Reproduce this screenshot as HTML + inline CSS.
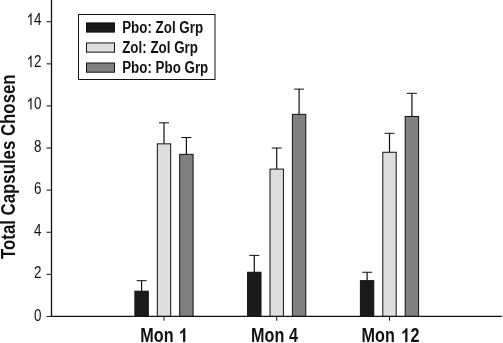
<!DOCTYPE html>
<html><head><meta charset="utf-8"><style>
html,body{margin:0;padding:0;background:#fff;overflow:hidden;}
svg{display:block;will-change:transform;}
text{font-family:"Liberation Sans",sans-serif;fill:#111;}
.b{font-weight:bold;}
</style></head><body>
<svg width="503" height="343" viewBox="0 0 503 343">
<line x1="141.60" y1="280.66" x2="141.60" y2="291.19" stroke="#111" stroke-width="1.2"/>
<line x1="136.60" y1="280.66" x2="146.60" y2="280.66" stroke="#111" stroke-width="1"/>
<rect x="134.90" y="291.19" width="13.4" height="25.26" fill="#1a1a1a" stroke="#111" stroke-width="1"/>
<line x1="164.00" y1="122.79" x2="164.00" y2="143.84" stroke="#111" stroke-width="1.2"/>
<line x1="159.00" y1="122.79" x2="169.00" y2="122.79" stroke="#111" stroke-width="1"/>
<rect x="157.30" y="143.84" width="13.4" height="172.61" fill="#dedede" stroke="#111" stroke-width="1"/>
<line x1="186.40" y1="137.52" x2="186.40" y2="154.36" stroke="#111" stroke-width="1.2"/>
<line x1="181.40" y1="137.52" x2="191.40" y2="137.52" stroke="#111" stroke-width="1"/>
<rect x="179.70" y="154.36" width="13.4" height="162.09" fill="#808080" stroke="#111" stroke-width="1"/>
<line x1="254.30" y1="255.40" x2="254.30" y2="272.25" stroke="#111" stroke-width="1.2"/>
<line x1="249.30" y1="255.40" x2="259.30" y2="255.40" stroke="#111" stroke-width="1"/>
<rect x="247.60" y="272.25" width="13.4" height="44.20" fill="#1a1a1a" stroke="#111" stroke-width="1"/>
<line x1="276.70" y1="148.05" x2="276.70" y2="169.10" stroke="#111" stroke-width="1.2"/>
<line x1="271.70" y1="148.05" x2="281.70" y2="148.05" stroke="#111" stroke-width="1"/>
<rect x="270.00" y="169.10" width="13.4" height="147.35" fill="#dedede" stroke="#111" stroke-width="1"/>
<line x1="299.10" y1="89.11" x2="299.10" y2="114.37" stroke="#111" stroke-width="1.2"/>
<line x1="294.10" y1="89.11" x2="304.10" y2="89.11" stroke="#111" stroke-width="1"/>
<rect x="292.40" y="114.37" width="13.4" height="202.08" fill="#808080" stroke="#111" stroke-width="1"/>
<line x1="367.10" y1="272.25" x2="367.10" y2="280.66" stroke="#111" stroke-width="1.2"/>
<line x1="362.10" y1="272.25" x2="372.10" y2="272.25" stroke="#111" stroke-width="1"/>
<rect x="360.40" y="280.66" width="13.4" height="35.79" fill="#1a1a1a" stroke="#111" stroke-width="1"/>
<line x1="389.50" y1="133.31" x2="389.50" y2="152.26" stroke="#111" stroke-width="1.2"/>
<line x1="384.50" y1="133.31" x2="394.50" y2="133.31" stroke="#111" stroke-width="1"/>
<rect x="382.80" y="152.26" width="13.4" height="164.19" fill="#dedede" stroke="#111" stroke-width="1"/>
<line x1="411.90" y1="93.32" x2="411.90" y2="116.47" stroke="#111" stroke-width="1.2"/>
<line x1="406.90" y1="93.32" x2="416.90" y2="93.32" stroke="#111" stroke-width="1"/>
<rect x="405.20" y="116.47" width="13.4" height="199.97" fill="#808080" stroke="#111" stroke-width="1"/>
<line x1="51.5" y1="0" x2="51.5" y2="316.95" stroke="#111" stroke-width="1.3"/>
<line x1="51" y1="316.45" x2="502" y2="316.45" stroke="#111" stroke-width="1.25"/>
<line x1="46.5" y1="316.45" x2="51" y2="316.45" stroke="#111" stroke-width="1"/>
<g transform="translate(34.03,320.75) scale(0.79,1)">
<text x="0" y="0" font-size="17" class="r">0</text>
</g>
<line x1="46.5" y1="274.35" x2="51" y2="274.35" stroke="#111" stroke-width="1"/>
<g transform="translate(34.03,278.49) scale(0.79,1)">
<text x="0" y="0" font-size="17" class="r">2</text>
</g>
<line x1="46.5" y1="232.25" x2="51" y2="232.25" stroke="#111" stroke-width="1"/>
<g transform="translate(34.03,236.23) scale(0.79,1)">
<text x="0" y="0" font-size="17" class="r">4</text>
</g>
<line x1="46.5" y1="190.15" x2="51" y2="190.15" stroke="#111" stroke-width="1"/>
<g transform="translate(34.03,193.97) scale(0.79,1)">
<text x="0" y="0" font-size="17" class="r">6</text>
</g>
<line x1="46.5" y1="148.05" x2="51" y2="148.05" stroke="#111" stroke-width="1"/>
<g transform="translate(34.03,151.71) scale(0.79,1)">
<text x="0" y="0" font-size="17" class="r">8</text>
</g>
<line x1="46.5" y1="105.95" x2="51" y2="105.95" stroke="#111" stroke-width="1"/>
<g transform="translate(26.56,109.45) scale(0.79,1)">
<text x="0" y="0" font-size="17" class="r"><tspan style="fill:transparent">1</tspan>0</text>
<path d="M763 0H583V1098Q518 1038 412.5 979T223 890V1057Q374 1125 487 1221T647 1409H763V0Z" transform="translate(0.000,0) scale(0.00830,-0.00830)" fill="#111"/>
</g>
<line x1="46.5" y1="63.85" x2="51" y2="63.85" stroke="#111" stroke-width="1"/>
<g transform="translate(26.56,67.19) scale(0.79,1)">
<text x="0" y="0" font-size="17" class="r"><tspan style="fill:transparent">1</tspan>2</text>
<path d="M763 0H583V1098Q518 1038 412.5 979T223 890V1057Q374 1125 487 1221T647 1409H763V0Z" transform="translate(0.000,0) scale(0.00830,-0.00830)" fill="#111"/>
</g>
<line x1="46.5" y1="21.75" x2="51" y2="21.75" stroke="#111" stroke-width="1"/>
<g transform="translate(26.56,24.93) scale(0.79,1)">
<text x="0" y="0" font-size="17" class="r"><tspan style="fill:transparent">1</tspan>4</text>
<path d="M763 0H583V1098Q518 1038 412.5 979T223 890V1057Q374 1125 487 1221T647 1409H763V0Z" transform="translate(0.000,0) scale(0.00830,-0.00830)" fill="#111"/>
</g>
<line x1="164.00" y1="316.45" x2="164.00" y2="320.7" stroke="#111" stroke-width="1"/>
<text transform="translate(140.35,342) scale(0.81,1)" font-size="20" class="b">Mon</text>
<g transform="translate(179.30,342.00) scale(0.81,1)">
<text x="0" y="0" font-size="20" class="b"><tspan style="fill:transparent">1</tspan></text>
<path d="M759 0H478V1014Q324 876 115 811V1055Q225 1089 353 1184T529 1409H759V0Z" transform="translate(0.000,0) scale(0.00977,-0.00977)" fill="#111"/>
</g>
<line x1="276.70" y1="316.45" x2="276.70" y2="320.7" stroke="#111" stroke-width="1"/>
<text transform="translate(251.05,342) scale(0.81,1)" font-size="20" class="b">Mon</text>
<g transform="translate(289.09,342.00) scale(0.81,1)">
<text x="0" y="0" font-size="20" class="b">4</text>
</g>
<line x1="389.50" y1="316.45" x2="389.50" y2="320.7" stroke="#111" stroke-width="1"/>
<text transform="translate(361.60,342) scale(0.81,1)" font-size="20" class="b">Mon</text>
<g transform="translate(401.45,342.00) scale(0.81,1)">
<text x="0" y="0" font-size="20" class="b"><tspan style="fill:transparent">1</tspan>2</text>
<path d="M759 0H478V1014Q324 876 115 811V1055Q225 1089 353 1184T529 1409H759V0Z" transform="translate(0.000,0) scale(0.00977,-0.00977)" fill="#111"/>
</g>
<text transform="translate(15.2,166.7) rotate(-90) scale(0.816,1)" text-anchor="middle" font-size="20.6" class="b">Total Capsules Chosen</text>
<rect x="78.5" y="14.5" width="136.5" height="65" fill="#fff" stroke="#111" stroke-width="1"/>
<rect x="86.5" y="22.90" width="28" height="9.2" fill="#1a1a1a" stroke="#111" stroke-width="1"/>
<text transform="translate(122.2,32.70) scale(0.857,1)" font-size="15.6" class="b">Pbo: Zol Grp</text>
<rect x="86.5" y="42.95" width="28" height="9.2" fill="#dedede" stroke="#111" stroke-width="1"/>
<text transform="translate(122.2,52.75) scale(0.857,1)" font-size="15.6" class="b">Zol: Zol Grp</text>
<rect x="86.5" y="63.00" width="28" height="9.2" fill="#808080" stroke="#111" stroke-width="1"/>
<text transform="translate(122.2,72.80) scale(0.857,1)" font-size="15.6" class="b">Pbo: Pbo Grp</text>
</svg>
</body></html>
